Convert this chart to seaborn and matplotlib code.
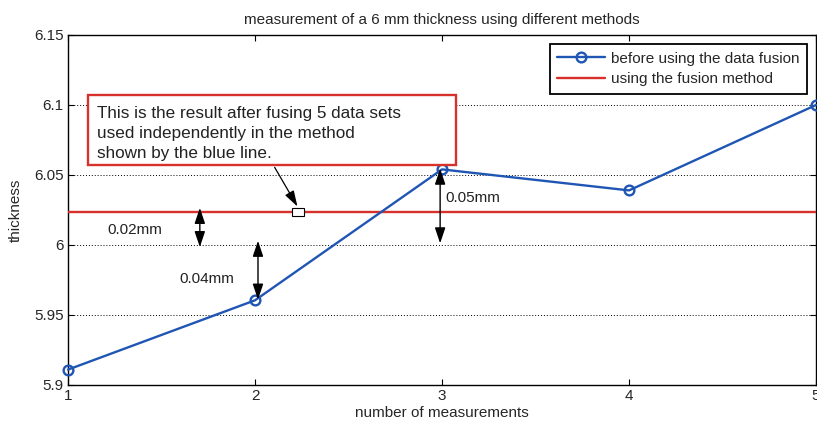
import matplotlib
matplotlib.use("Agg")
import matplotlib.pyplot as plt
import seaborn as sns
import pandas as pd
from matplotlib.patches import Rectangle

# measurements before fusion
measurement_no = [1, 2, 3, 4, 5]
thickness = [5.911, 5.9605, 6.054, 6.039, 6.1]
# fused result
fused_value = 6.0235

y_ticks = [5.9, 5.95, 6.0, 6.05, 6.1, 6.15]
y_tick_labels = ["5.9", "5.95", "6", "6.05", "6.1", "6.15"]
x_ticks = [1, 2, 3, 4, 5]

# gap annotations
gap_x = [1.705, 2.016, 2.99]
gap_lo = [5.9985, 5.961, 6.0012]
gap_hi = [6.0265, 6.003, 6.0545]
gap_text = ["0.02mm", "0.04mm", "0.05mm"]
gap_text_x = [1.21, 1.595, 3.02]
gap_text_y = [6.011, 5.976, 6.0335]

note_lines = ["This is the result after fusing 5 data sets",
              "used independently in the method",
              "shown by the blue line."]
note_baselines = [6.0905, 6.0762, 6.0619]

sns.set_theme(style="white")
plt.rcParams["font.family"] = ["Liberation Sans", "DejaVu Sans"]

fig = plt.figure(figsize=(8.17, 4.25), dpi=100)
ax = fig.add_axes([68 / 817, 40 / 425, 748 / 817, 350 / 425])

blue = "#1f56b4"
red = "#d8312c"

df = pd.DataFrame({"n": measurement_no, "t": thickness})
sns.lineplot(data=df, x="n", y="t", ax=ax, color=blue, linewidth=1.7,
             marker="o", markersize=7, markerfacecolor="none",
             markeredgecolor=blue, markeredgewidth=1.7,
             label="before using the data fusion", zorder=4, clip_on=False)
ax.axhline(fused_value, color=red, linewidth=1.7,
           label="using the fusion method", zorder=3)

ax.set_xlim(1, 5)
ax.set_ylim(5.9, 6.15)
ax.set_xticks(x_ticks)
ax.set_xticklabels([str(v) for v in x_ticks], fontsize=11)
ax.set_yticks(y_ticks)
ax.set_yticklabels(y_tick_labels, fontsize=11)
ax.tick_params(direction="in", length=4, width=0.8, color="black",
               top=True, right=True, bottom=True, left=True, pad=3)
for s in ax.spines.values():
    s.set_color("black")
    s.set_linewidth(1.0)

for yv in [5.95, 6.0, 6.05, 6.1]:
    ax.axhline(yv, color="black", linestyle=(0, (1, 2)), linewidth=0.7, zorder=1)

ax.set_title("measurement of a 6 mm thickness using different methods",
             fontsize=11, pad=8)
ax.set_xlabel("number of measurements", fontsize=11, labelpad=2)
ax.set_ylabel("thickness", fontsize=11, labelpad=8)

leg = ax.legend(loc="upper right", fontsize=11, frameon=True, fancybox=False,
                edgecolor="black", borderaxespad=0.6, handlelength=3.1,
                handletextpad=0.4, labelspacing=0.4, borderpad=0.5)
leg.get_frame().set_linewidth(1.3)
leg.get_frame().set_alpha(1)

# double-headed gap arrows
for gx, lo, hi, txt, tx, ty in zip(gap_x, gap_lo, gap_hi, gap_text, gap_text_x, gap_text_y):
    ax.annotate("", xy=(gx, lo), xytext=(gx, hi),
                arrowprops=dict(arrowstyle="<|-|>,head_length=0.95,head_width=0.32",
                                mutation_scale=10, color="black", lw=1.0,
                                shrinkA=0, shrinkB=0),
                zorder=5)
    ax.text(tx, ty, txt, fontsize=11, color="#222222", va="center", ha="left")

# marker box on the fused line and its callout
ax.add_patch(Rectangle((2.197, fused_value - 0.003), 0.063, 0.006,
                       facecolor="white", edgecolor="black", linewidth=0.8, zorder=6))
ax.annotate("", xy=(2.227, fused_value + 0.004), xytext=(2.105, 6.0555),
            arrowprops=dict(arrowstyle="-|>,head_length=0.8,head_width=0.25",
                            color="black", lw=0.9, shrinkA=0, shrinkB=0), zorder=6)

# note box
ax.add_patch(Rectangle((1.107, 6.0575), 3.075 - 1.107, 6.107 - 6.0575,
                       facecolor="white", edgecolor=red, linewidth=1.7, zorder=7))
for line, yb in zip(note_lines, note_baselines):
    ax.text(1.153, yb, line, fontsize=12.3, color="#222222",
            va="baseline", ha="left", zorder=8)

fig.savefig("out.png", dpi=100)
